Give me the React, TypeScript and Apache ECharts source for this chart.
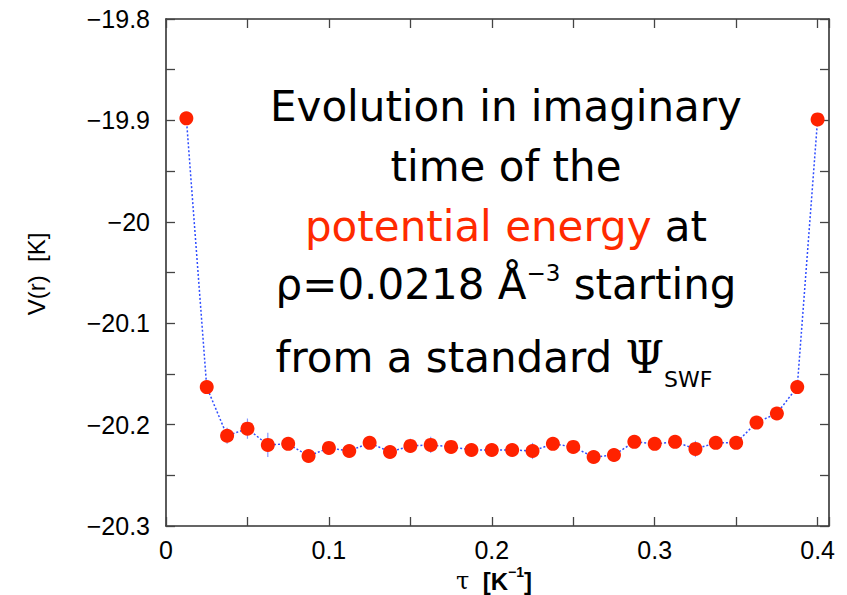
import React, { useEffect, useRef } from 'react';
import * as echarts from 'echarts';

// imaginary time tau [1/K]
const tau = [
  0.0125, 0.025, 0.0375, 0.05, 0.0625, 0.075, 0.0875, 0.1,
  0.1125, 0.125, 0.1375, 0.15, 0.1625, 0.175, 0.1875, 0.2,
  0.2125, 0.225, 0.2375, 0.25, 0.2625, 0.275, 0.2875, 0.3,
  0.3125, 0.325, 0.3375, 0.35, 0.3625, 0.375, 0.3875, 0.4,
];
// potential energy V(r) [K]
const potential = [
  -19.898, -20.163, -20.211, -20.204, -20.220, -20.219, -20.231, -20.223,
  -20.226, -20.218, -20.227, -20.221, -20.220, -20.222, -20.225, -20.225,
  -20.225, -20.226, -20.219, -20.222, -20.232, -20.230, -20.217, -20.219,
  -20.217, -20.224, -20.218, -20.218, -20.198, -20.189, -20.163, -19.899,
];
// statistical error bars (+/-)
const errors = [
  0.004, 0.006, 0.008, 0.010, 0.012, 0.006, 0.006, 0.006,
  0.005, 0.006, 0.006, 0.007, 0.008, 0.005, 0.004, 0.004,
  0.004, 0.008, 0.006, 0.005, 0.006, 0.007, 0.005, 0.005,
  0.006, 0.008, 0.005, 0.005, 0.005, 0.005, 0.005, 0.004,
];
const xRange = [0, 0.407];
const yRange = [-20.3, -19.8];

const SANS = 'DejaVu Sans';
const AX = 'Liberation Sans';

type Piece = { text: string; size: number; color?: string; family?: string; weight?: string; dy?: number };

let measureCtx: CanvasRenderingContext2D | null = null;
function measure(text: string, size: number, family: string, weight = 'normal') {
  if (!measureCtx) measureCtx = document.createElement('canvas').getContext('2d');
  measureCtx!.font = `${weight} ${size}px "${family}"`;
  return measureCtx!.measureText(text).width;
}

function layoutLine(pieces: Piece[], cx: number, cy: number) {
  const widths = pieces.map(p => measure(p.text, p.size, p.family || SANS, p.weight || 'normal'));
  const total = widths.reduce((a, b) => a + b, 0);
  let x = cx - total / 2;
  return pieces.map((p, i) => {
    const el = {
      type: 'text',
      x,
      y: cy + (p.dy || 0),
      silent: true,
      style: {
        text: p.text,
        fontSize: p.size,
        fontFamily: p.family || SANS,
        fontWeight: p.weight || 'normal',
        fill: p.color || '#000',
        align: 'left',
        verticalAlign: 'middle',
      },
    };
    x += widths[i];
    return el;
  });
}

const yLabel = (v: number) => {
  const r = Math.round(v * 10) / 10;
  if (Math.abs(v - r) > 1e-6) return '';
  return String(r).replace('-', '\u2212');
};
const xLabel = (v: number) => {
  const r = Math.round(v * 10) / 10;
  if (Math.abs(v - r) > 1e-6) return '';
  return String(r);
};

export default function App() {
  const ref = useRef<HTMLDivElement>(null);
  useEffect(() => {
    if (!ref.current) return;
    const chart = echarts.init(ref.current, null, { renderer: 'svg' });

    const axisLine = { show: true, onZero: false, lineStyle: { color: '#333', width: 1.6 } };
    const axisTick = { show: true, inside: true, length: 9, lineStyle: { color: '#444', width: 1.3 } };

    const annotation = [
      ...layoutLine([{ text: 'Evolution in imaginary', size: 42 }], 506, 106),
      ...layoutLine([{ text: 'time of the', size: 42 }], 506, 166),
      ...layoutLine([
        { text: 'potential energy', size: 42, color: '#ff2a00' },
        { text: ' at', size: 42 },
      ], 506, 226),
      ...layoutLine([
        { text: '\u03c1=0.0218 \u00c5', size: 42 },
        { text: '\u22123', size: 23, dy: -11 },
        { text: ' starting', size: 42 },
      ], 506, 284),
      ...layoutLine([
        { text: 'from a standard ', size: 42 },
        { text: '\u03a8', size: 44, family: 'DejaVu Serif' },
        { text: 'SWF', size: 22, dy: 22 },
      ], 494, 357),
      ...layoutLine([
        { text: '\u03c4', size: 24, family: 'DejaVu Serif' },
        { text: '  [K', size: 24, family: AX, weight: 'bold' },
        { text: '\u22121', size: 14, family: AX, weight: 'bold', dy: -9 },
        { text: ']', size: 24, family: AX, weight: 'bold' },
      ], 494, 581),
    ];

    const labelStyle = { fontSize: 25, color: '#000', fontFamily: AX };

    chart.setOption({
      animation: false,
      backgroundColor: '#fff',
      grid: { left: 166, right: 18, top: 19, bottom: 69, containLabel: false },
      xAxis: [
        {
          type: 'value', min: xRange[0], max: xRange[1], interval: 0.05,
          axisLine, axisTick, splitLine: { show: false },
          axisLabel: { ...labelStyle, formatter: xLabel, margin: 11 },
        },
        {
          type: 'value', position: 'top', min: xRange[0], max: xRange[1], interval: 0.05,
          axisLine, axisTick, splitLine: { show: false }, axisLabel: { show: false },
        },
      ],
      yAxis: [
        {
          type: 'value', min: yRange[0], max: yRange[1], interval: 0.05,
          axisLine, axisTick, splitLine: { show: false },
          axisLabel: { ...labelStyle, formatter: yLabel, margin: 16 },
        },
        {
          type: 'value', position: 'right', min: yRange[0], max: yRange[1], interval: 0.05,
          axisLine, axisTick, splitLine: { show: false }, axisLabel: { show: false },
        },
      ],
      series: [
        {
          type: 'line',
          data: tau.map((t, i) => [t, potential[i]]),
          symbol: 'circle',
          symbolSize: 14,
          itemStyle: { color: '#ff2200' },
          lineStyle: { color: '#2f4dff', width: 1.5, type: [2, 2] },
          z: 3,
        },
        {
          type: 'custom',
          data: tau.map((t, i) => [t, potential[i], errors[i]]),
          renderItem: (_params: any, api: any) => {
            const x = api.value(0), y = api.value(1), e = api.value(2);
            const p1 = api.coord([x, y + e]);
            const p2 = api.coord([x, y - e]);
            return {
              type: 'line',
              shape: { x1: p1[0], y1: p1[1], x2: p2[0], y2: p2[1] },
              style: { stroke: '#8797ff', lineWidth: 1.2 },
            };
          },
          z: 2,
        },
      ],
      graphic: [
        ...annotation,
        {
          type: 'text',
          x: 36,
          y: 274,
          rotation: Math.PI / 2,
          silent: true,
          style: {
            text: 'V(r)  [K]',
            fontSize: 24,
            fontFamily: AX,
            fill: '#000',
            align: 'center',
            verticalAlign: 'middle',
          },
        },
      ],
    });
    return () => chart.dispose();
  }, []);
  return <div ref={ref} style={{ position: 'fixed', left: 0, top: 0, width: 847, height: 595 }} />;
}
